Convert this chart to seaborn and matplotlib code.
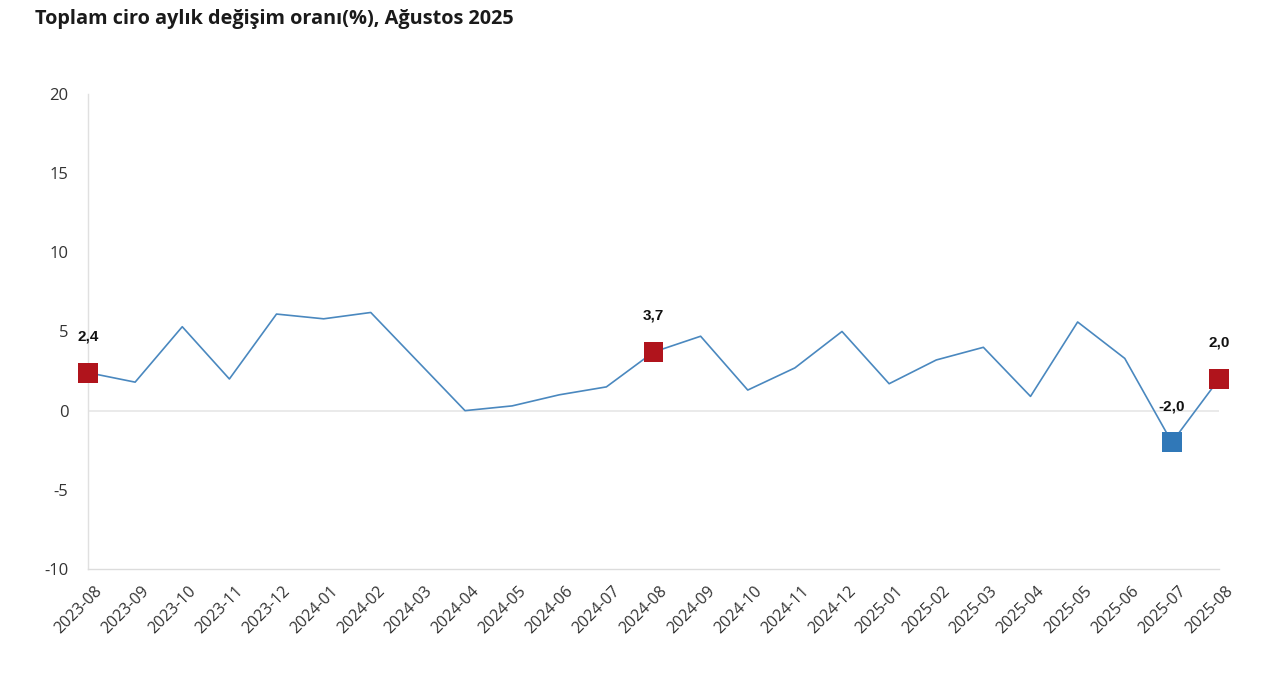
import matplotlib
matplotlib.use("Agg")
import matplotlib.pyplot as plt
import matplotlib.transforms as mtrans
import seaborn as sns
import pandas as pd

months = ["2023-08", "2023-09", "2023-10", "2023-11", "2023-12", "2024-01", "2024-02",
          "2024-03", "2024-04", "2024-05", "2024-06", "2024-07", "2024-08", "2024-09",
          "2024-10", "2024-11", "2024-12", "2025-01", "2025-02", "2025-03", "2025-04",
          "2025-05", "2025-06", "2025-07", "2025-08"]
values = [2.4, 1.8, 5.3, 2.0, 6.1, 5.8, 6.2, 3.1, 0.0, 0.3, 1.0, 1.5, 3.7, 4.7,
          1.3, 2.7, 5.0, 1.7, 3.2, 4.0, 0.9, 5.6, 3.3, -2.0, 2.0]
highlight_months = ["2023-08", "2024-08", "2025-07", "2025-08"]
highlight_labels = ["2,4", "3,7", "-2,0", "2,0"]
highlight_kind = ["up", "up", "down", "up"]
yticks = [-10, -5, 0, 5, 10, 15, 20]
title = "Toplam ciro aylık değişim oranı(%), Ağustos 2025"

sns.set_theme(style="white")
plt.rcParams['font.family'] = ['Open Sans', 'DejaVu Sans']

df = pd.DataFrame({"month": months, "value": values})
df["pos"] = range(len(months))
hl = df[df["month"].isin(highlight_months)].copy()
hl["label"] = highlight_labels
hl["kind"] = highlight_kind

fig = plt.figure(figsize=(12.8, 6.81), dpi=100)
ax = fig.add_axes([0.06875, 0.1645, 0.8836, 0.6975])

sns.lineplot(data=df, x="pos", y="value", ax=ax, color="#4a88bf", linewidth=1.2)
sns.scatterplot(data=hl, x="pos", y="value", hue="kind",
                palette={"up": "#b0141c", "down": "#3078b8"},
                marker="s", s=205, edgecolor="none", ax=ax, legend=False,
                clip_on=False, zorder=5)

for _, r in hl.iterrows():
    ax.annotate(r["label"], (r["pos"], r["value"]), xytext=(0, 26),
                textcoords="offset points", ha="center", va="center",
                fontsize=11, fontweight="bold", family=["Liberation Sans", "DejaVu Sans"],
                color="#111111")

ax.set_xlim(0, len(months) - 1)
ax.set_ylim(-10, 20)
ax.set_yticks(yticks)
ax.set_yticklabels([str(t) for t in yticks])
ax.set_xticks(df["pos"])
ax.set_xticklabels(months, rotation=45, ha="right", rotation_mode="anchor")
ax.tick_params(axis="x", labelsize=11.5, colors="#333333", pad=10, length=0)
ax.tick_params(axis="y", labelsize=12, colors="#333333", pad=14, length=0)
shift = mtrans.ScaledTranslation(6 / 100, 0, fig.dpi_scale_trans)
for lab in ax.get_xticklabels():
    lab.set_transform(lab.get_transform() + shift)
ax.axhline(0, color="#e6e6e6", linewidth=1.2, zorder=0)
ax.set_xlabel("")
ax.set_ylabel("")

for side in ["top", "right"]:
    ax.spines[side].set_visible(False)
ax.spines["left"].set_color("#e0e0e0")
ax.spines["bottom"].set_color("#dcdcdc")
ax.spines["left"].set_linewidth(1.0)
ax.spines["bottom"].set_linewidth(1.0)

fig.text(0.027, 0.972, title, fontsize=14.3, fontweight="bold", color="#1a1a1a",
         ha="left", va="center")

fig.savefig("out.png", dpi=100, facecolor="white")
